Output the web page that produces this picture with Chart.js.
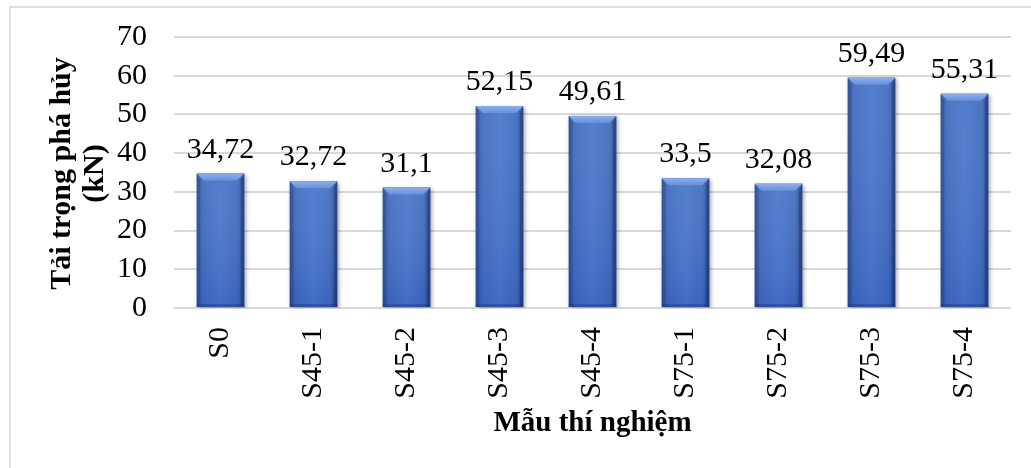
<!DOCTYPE html>
<html>
<head>
<meta charset="utf-8">
<script src="https://cdn.jsdelivr.net/npm/chart.js@4"></script>
<style>
  html, body { margin: 0; padding: 0; background: #fff; overflow: hidden; }
  #wrap { position: relative; width: 1031px; height: 468px; }
  #frame { position: absolute; left: 9px; top: 6px; width: 1100px; height: 520px; border: 2px solid #dedede; box-sizing: border-box; }
  #chartBox { position: absolute; left: 0; top: 0; width: 1031px; height: 468px; }
</style>
</head>
<body>
<div id="wrap">
  <div id="frame"></div>
  <div id="chartBox"><canvas id="loadChart"></canvas></div>
</div>
<script>
// samples and failure loads (kN)
const samples = ['S0', 'S45-1', 'S45-2', 'S45-3', 'S45-4', 'S75-1', 'S75-2', 'S75-3', 'S75-4'];
const failureLoad = [34.72, 32.72, 31.1, 52.15, 49.61, 33.5, 32.08, 59.49, 55.31];
const yTicks = [0, 10, 20, 30, 40, 50, 60, 70];
const yTitleLines = ['Tải trọng phá hủy', '(kN)'];

const serif = "'Liberation Serif', 'Times New Roman', serif";

// decimal comma like the source sheet
function fmt(v) {
  return String(v).replace('.', ',');
}

// shaded, bevelled look painted over each bar
const bevelBars = {
  id: 'bevelBars',
  beforeDatasetDraw(chart) {
    const ctx = chart.ctx;
    ctx.save();
    ctx.shadowColor = 'rgba(0,0,0,0.35)';
    ctx.shadowBlur = 4;
    ctx.shadowOffsetX = 1.5;
    ctx.shadowOffsetY = 1.5;
  },
  afterDatasetDraw(chart) {
    const ctx = chart.ctx;
    ctx.restore();
    const meta = chart.getDatasetMeta(0);
    meta.data.forEach(bar => {
      const p = bar.getProps(['x', 'y', 'base', 'width'], true);
      const l = p.x - p.width / 2, r = p.x + p.width / 2;
      const t = p.y, b = p.base;
      const bv = 7;

      const g = ctx.createLinearGradient(l, 0, r, 0);
      g.addColorStop(0, '#34589f');
      g.addColorStop(0.15, '#426dbf');
      g.addColorStop(0.5, '#4a78cb');
      g.addColorStop(0.85, '#426dbf');
      g.addColorStop(1, '#2c4c90');
      ctx.fillStyle = g;
      ctx.fillRect(l, t, r - l, b - t);

      // darker towards the base
      const gv = ctx.createLinearGradient(0, t, 0, b);
      gv.addColorStop(0, 'rgba(255,255,255,0.06)');
      gv.addColorStop(1, 'rgba(10,40,150,0.15)');
      ctx.fillStyle = gv;
      ctx.fillRect(l, t, r - l, b - t);

      // top bevel
      const gt = ctx.createLinearGradient(0, t, 0, t + bv);
      gt.addColorStop(0, '#8eaeea');
      gt.addColorStop(1, '#6690da');
      ctx.fillStyle = gt;
      ctx.beginPath();
      ctx.moveTo(l, t);
      ctx.lineTo(r, t);
      ctx.lineTo(r - bv, t + bv);
      ctx.lineTo(l + bv, t + bv);
      ctx.closePath();
      ctx.fill();

      // side bevels
      ctx.fillStyle = 'rgba(20,45,110,0.25)';
      ctx.beginPath();
      ctx.moveTo(l, t);
      ctx.lineTo(l + bv * 0.5, t + bv);
      ctx.lineTo(l + bv * 0.5, b - 3);
      ctx.lineTo(l, b);
      ctx.closePath();
      ctx.fill();
      ctx.fillStyle = 'rgba(15,35,90,0.35)';
      ctx.beginPath();
      ctx.moveTo(r, t);
      ctx.lineTo(r - bv * 0.5, t + bv);
      ctx.lineTo(r - bv * 0.5, b - 3);
      ctx.lineTo(r, b);
      ctx.closePath();
      ctx.fill();

      // bottom edge
      ctx.fillStyle = 'rgba(15,35,100,0.3)';
      ctx.fillRect(l, b - 3, r - l, 3);
    });
  }
};

// value printed above each bar
const valueLabels = {
  id: 'valueLabels',
  afterDatasetsDraw(chart) {
    const ctx = chart.ctx;
    const meta = chart.getDatasetMeta(0);
    ctx.save();
    ctx.font = '30px ' + serif;
    ctx.fillStyle = '#000';
    ctx.textAlign = 'center';
    ctx.textBaseline = 'alphabetic';
    meta.data.forEach((bar, i) => {
      ctx.fillText(fmt(failureLoad[i]), bar.x, bar.y - 16);
    });
    ctx.restore();
  }
};

// two-line rotated y title, baselines 33px apart
const yTitle = {
  id: 'yTitle',
  afterDraw(chart) {
    const ctx = chart.ctx;
    const area = chart.chartArea;
    const cy = (area.top + area.bottom) / 2 + 1;
    ctx.save();
    ctx.font = 'bold 30px ' + serif;
    ctx.fillStyle = '#000';
    ctx.textAlign = 'center';
    ctx.textBaseline = 'alphabetic';
    yTitleLines.forEach((line, i) => {
      ctx.save();
      ctx.translate(70 + i * 33, cy);
      ctx.rotate(-Math.PI / 2);
      ctx.fillText(line, 0, 0);
      ctx.restore();
    });
    ctx.restore();
  }
};

new Chart(document.getElementById('loadChart'), {
  type: 'bar',
  data: {
    labels: samples,
    datasets: [{
      data: failureLoad,
      backgroundColor: '#4472c4',
      borderWidth: 0,
      barPercentage: 0.51,
      categoryPercentage: 1
    }]
  },
  options: {
    responsive: true,
    maintainAspectRatio: false,
    animation: false,
    layout: { padding: { top: 37, right: 20, left: 0, bottom: 0 } },
    plugins: {
      legend: { display: false },
      tooltip: { enabled: false }
    },
    scales: {
      x: {
        grid: { display: false, drawTicks: false },
        border: { display: false },
        ticks: {
          color: '#000',
          font: { family: serif, size: 30 },
          minRotation: 90,
          maxRotation: 90,
          autoSkip: false,
          padding: 19
        },
        title: {
          display: true,
          text: 'Mẫu thí nghiệm',
          color: '#000',
          font: { family: serif, size: 29, weight: 'bold', lineHeight: 1.2 },
          padding: { top: 0, bottom: 27 }
        },
        afterFit(scale) { scale.height = 160; }
      },
      y: {
        min: 0,
        max: 70,
        afterBuildTicks(scale) {
          scale.ticks = yTicks.map(v => ({ value: v }));
        },
        // gap between labels and plot comes from an invisible tick mark
        grid: { color: '#d9d9d9', lineWidth: 2, drawTicks: true, tickLength: 27, tickColor: 'rgba(0,0,0,0)' },
        border: { display: false },
        ticks: {
          color: '#000',
          font: { family: serif, size: 30 },
          autoSkip: false,
          padding: 0
        },
        title: { display: false },
        afterFit(scale) { scale.width = 174; }
      }
    }
  },
  plugins: [bevelBars, valueLabels, yTitle]
});
</script>
</body>
</html>
